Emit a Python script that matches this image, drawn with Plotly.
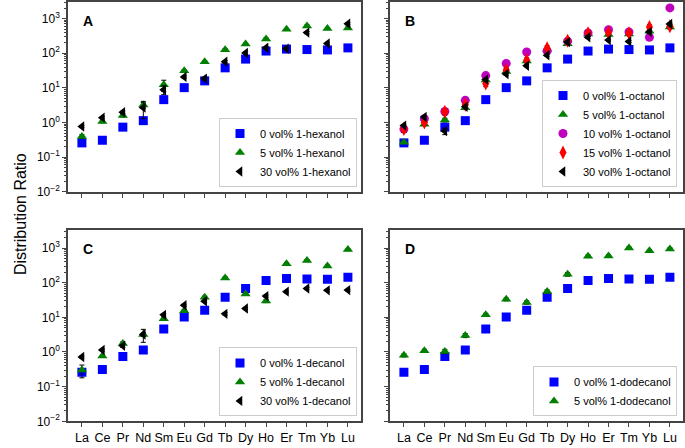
import plotly.graph_objects as go

elements = ["La", "Ce", "Pr", "Nd", "Sm", "Eu", "Gd", "Tb", "Dy", "Ho", "Er", "Tm", "Yb", "Lu"]

# 0 vol% modifier (common reference)
d0 = [0.26, 0.31, 0.74, 1.14, 4.6, 10.2, 16.0, 38, 68, 116, 132, 128, 125, 143]
d0_err = [0.02, 0.02, 0.12, 0.08, 0.3, 0.6, 1.0, 2, 4, 6, 8, 8, 7, 8]

# Panel A: 1-hexanol
hex5 = [0.40, 1.07, 1.6, 3.2, 12.3, 31.5, 57, 127, 184, 260, 490, 615, 515, 537]
hex5_err = [0.05, 0.08, 0.15, 0.6, 4.4, 2, 4, 8, 12, 18, 30, 40, 30, 40]
hex30 = [0.77, 1.39, 2.0, 2.7, 8.9, 20.8, 18.6, 57, 102, 145, 135, 395, 192, 710]
hex30_err = [0.05, 0.1, 0.15, 1.4, 2.5, 1.5, 1.5, 4, 8, 10, 10, 30, 15, 50]

# Panel B: 1-octanol
oct5 = [0.27, 0.90, 1.19, 2.7, 17, 30, 60, 130, 188, 360, 350, 360, 433, 570]
oct5_err = [0.02, 0.08, 0.15, 0.2, 1.5, 2, 4, 10, 12, 25, 25, 25, 30, 40]
oct10 = [0.65, 1.3, 2.1, 4.4, 22.7, 51, 109, 117, 224, 385, 480, 414, 290, 2040]
oct10_err = [0.05, 0.1, 0.15, 0.3, 1.5, 3, 7, 8, 15, 25, 30, 30, 20, 120]
oct15 = [0.65, 1.0, 2.05, 3.3, 13.4, 33, 63, 139, 229, 380, 390, 380, 575, 600]
oct15_err = [0.12, 0.15, 0.4, 0.5, 2.5, 6, 10, 25, 30, 60, 60, 50, 90, 90]
oct30 = [0.82, 1.45, 0.57, 2.85, 17.4, 25.3, 43.6, 88, 210, 290, 240, 219, 414, 700]
oct30_err = [0.05, 0.1, 0.12, 0.2, 1.2, 2, 3, 6, 15, 20, 15, 15, 30, 50]

# Panel C: 1-decanol
dec5 = [0.30, 0.77, 1.77, 3.2, 9.1, 15.4, 38, 137, 47, 29.6, 352, 435, 302, 900]
dec5_err = [0.12, 0.05, 0.2, 0.4, 0.8, 1.5, 3, 10, 4, 3, 25, 30, 20, 60]
dec30 = [0.72, 1.14, 1.51, 3.2, 11.8, 22.3, 29, 12.6, 17.9, 41, 55, 68, 60, 61]
dec30_err = [0.05, 0.08, 0.15, 1.3, 1.0, 1.5, 2, 1, 1.2, 3, 4, 5, 4, 4]

# Panel D: 1-dodecanol
dodec5 = [0.80, 1.09, 1.04, 3.0, 11.8, 33, 27, 56, 174, 580, 590, 1000, 830, 940]
dodec5_err = [0.08, 0.1, 0.15, 0.4, 1.2, 3, 3, 6, 20, 50, 50, 80, 60, 70]

ytick_vals = [0.01, 0.1, 1, 10, 100, 1000]
ytick_text = ["10<sup>−2</sup>", "10<sup>−1</sup>", "10<sup>0</sup>", "10<sup>1</sup>", "10<sup>2</sup>", "10<sup>3</sup>"]

BLUE = "#0000FF"
GREEN = "#007F00"
MAGENTA = "#BF00BF"
RED = "#FF0000"
BLACK = "#000000"
FONT = "Liberation Sans, Arial"

styles = {
    "blue": dict(symbol="square", color=BLUE, size=9),
    "green": dict(symbol="triangle-up", color=GREEN, size=9),
    "mag": dict(symbol="circle", color=MAGENTA, size=9),
    "red": dict(symbol="diamond-tall", color=RED, size=10),
    "black": dict(symbol="triangle-left", color=BLACK, size=9),
}

fig = go.Figure()

def add(vals, errs, name, style, xa, ya, leg):
    st = styles[style]
    fig.add_trace(go.Scatter(
        x=elements, y=vals, mode="markers", name=name,
        marker=dict(symbol=st["symbol"], color=st["color"], size=st["size"], line=dict(width=0)),
        error_y=dict(type="data", array=errs, visible=True, color="black", thickness=1, width=2.5),
        xaxis=xa, yaxis=ya, legend=leg,
    ))

# Panel A
add(d0, d0_err, "0 vol% 1-hexanol", "blue", "x", "y", "legend")
add(hex5, hex5_err, "5 vol% 1-hexanol", "green", "x", "y", "legend")
add(hex30, hex30_err, "30 vol% 1-hexanol", "black", "x", "y", "legend")
# Panel B
add(d0, d0_err, "0 vol% 1-octanol", "blue", "x2", "y2", "legend2")
add(oct5, oct5_err, "5 vol% 1-octanol", "green", "x2", "y2", "legend2")
add(oct10, oct10_err, "10 vol% 1-octanol", "mag", "x2", "y2", "legend2")
add(oct15, oct15_err, "15 vol% 1-octanol", "red", "x2", "y2", "legend2")
add(oct30, oct30_err, "30 vol% 1-octanol", "black", "x2", "y2", "legend2")
# Panel C
add(d0, d0_err, "0 vol% 1-decanol", "blue", "x3", "y3", "legend3")
add(dec5, dec5_err, "5 vol% 1-decanol", "green", "x3", "y3", "legend3")
add(dec30, dec30_err, "30 vol% 1-decanol", "black", "x3", "y3", "legend3")
# Panel D
add(d0, d0_err, "0 vol% 1-dodecanol", "blue", "x4", "y4", "legend4")
add(dodec5, dodec5_err, "5 vol% 1-dodecanol", "green", "x4", "y4", "legend4")

FRAME = "#444444"
minor_vals = [m * 10 ** e for e in range(-2, 4) for m in range(2, 10)]

xdom_l = [68 / 685, 361 / 685]
xdom_r = [390 / 685, 683 / 685]
ydom_t = [1 - 195 / 448, 1 - 2 / 448]
ydom_b = [1 - 428 / 448, 1 - 234 / 448]

def xaxis(dom, anchor, labels):
    return dict(domain=dom, anchor=anchor, type="category", categoryorder="array",
                categoryarray=elements, range=[-0.68, 13.64],
                showline=True, mirror=True, linecolor=FRAME, linewidth=1.5,
                ticks="outside", ticklen=4, tickcolor=FRAME, showgrid=False, zeroline=False,
                showticklabels=labels, tickfont=dict(family=FONT, size=12.5, color="black"))

def yaxis(dom, anchor, rng, labels):
    return dict(domain=dom, anchor=anchor, type="log", range=rng,
                tickmode="array", tickvals=ytick_vals, ticktext=ytick_text,
                showline=True, mirror=True, linecolor=FRAME, linewidth=1.5,
                ticks="outside", ticklen=4, tickcolor=FRAME, showgrid=False, zeroline=False,
                minor=dict(tickmode="array", tickvals=minor_vals, ticks="outside", ticklen=2, tickcolor=FRAME),
                showticklabels=labels, tickfont=dict(family=FONT, size=12, color="black"))

def legend(x, y):
    return dict(x=x, y=y, xanchor="right", yanchor="bottom", xref="paper", yref="paper",
                bgcolor="white", bordercolor="#CCCCCC", borderwidth=1,
                font=dict(family=FONT, size=11, color="black"),
                tracegroupgap=0, itemwidth=30)

fig.update_layout(
    width=685, height=448, margin=dict(l=0, r=0, t=0, b=0),
    paper_bgcolor="white", plot_bgcolor="white",
    xaxis=xaxis(xdom_l, "y", False), yaxis=yaxis(ydom_t, "x", [-2, 3.48], True),
    xaxis2=xaxis(xdom_r, "y2", False), yaxis2=yaxis(ydom_t, "x2", [-2, 3.48], False),
    xaxis3=xaxis(xdom_l, "y3", True), yaxis3=yaxis(ydom_b, "x3", [-2, 3.51], True),
    xaxis4=xaxis(xdom_r, "y4", True), yaxis4=yaxis(ydom_b, "x4", [-2, 3.51], False),
    legend=legend(357 / 685, 1 - 190 / 448),
    legend2=legend(677 / 685, 1 - 190 / 448),
    legend3=legend(357 / 685, 1 - 423 / 448),
    legend4=legend(677 / 685, 1 - 423 / 448),
    showlegend=True,
)

panel_labels = [("A", "x domain", "y domain"), ("B", "x2 domain", "y2 domain"),
                ("C", "x3 domain", "y3 domain"), ("D", "x4 domain", "y4 domain")]
for lab, xr, yr in panel_labels:
    fig.add_annotation(text="<b>" + lab + "</b>", xref=xr, yref=yr, x=0.045, y=0.955,
                       showarrow=False, font=dict(family=FONT, size=14, color="black"))

fig.add_annotation(text="Distribution Ratio", xref="paper", yref="paper", x=10 / 685, y=1 - 218 / 448,
                   textangle=-90, showarrow=False,
                   font=dict(family=FONT, size=16, color="black"))

fig.write_html("out.html")
